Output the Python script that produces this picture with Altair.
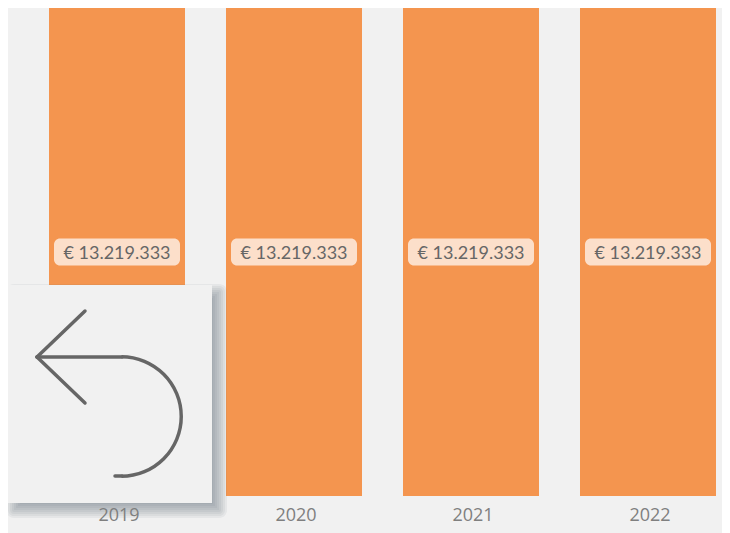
import altair as alt
import pandas as pd

years = ["2019", "2020", "2021", "2022"]
values = [13219333, 13219333, 13219333, 13219333]
labels = ["€ 13.219.333"] * 4

df = pd.DataFrame({"year": years, "value": values, "label": labels})
df["mid"] = df["value"] / 2

BG = "#F1F1F1"
ORANGE = "#F4954F"
INK = "#666666"

x = alt.X(
    "year:N",
    title=None,
    scale=alt.Scale(range=[41, 708], paddingInner=0.2316, paddingOuter=0),
    axis=alt.Axis(
        domain=False, ticks=False, grid=False, labelAngle=0, labelFontSize=18,
        labelFont="Open Sans", labelColor="#7F7F7F", labelPadding=10,
        labelOffset=2, zindex=1,
    ),
)
y_axis = alt.Axis(domain=False, ticks=False, grid=False, labels=False, title=None)
yscale = alt.Scale(domain=[0, 13219333], range=[488, 0], nice=False)

bars = alt.Chart(df).mark_bar(color=ORANGE, size=136).encode(
    x=x, y=alt.Y("value:Q", scale=yscale, axis=y_axis)
)
badges = alt.Chart(df).mark_rect(
    width=126, height=27, cornerRadius=6, color="#FFFFFF", opacity=0.7
).encode(x=x, y=alt.Y("mid:Q", scale=yscale, axis=y_axis))
texts = alt.Chart(df).mark_text(
    font="Lato", fontSize=18, color=INK, baseline="middle", align="center", dy=1.5
).encode(x=x, y=alt.Y("mid:Q", scale=yscale, axis=y_axis), text="label:N")


def box(x0, x1, y0, y1, **kw):
    return alt.Chart(df.head(1)).mark_rect(**kw).encode(
        x=alt.value(x0), x2=alt.value(x1), y=alt.value(y0), y2=alt.value(y1)
    )


def seg(x0, y0, x1, y1):
    return alt.Chart(df.head(1)).mark_rule(
        color=INK, strokeWidth=3.5, strokeCap="round"
    ).encode(x=alt.value(x0), x2=alt.value(x1), y=alt.value(y0), y2=alt.value(y1))


# button drawn in pixel space (chart origin is page 8,8)
L, R, T, B = 7 - 8, 212 - 8, 285 - 8, 503 - 8
shadow = []
for g in range(8, -8, -2):
    shadow.append(
        box(L + 7 - g, R + 7 + g, T + 7 - g, B + 7 + g,
            color="#5C6779", opacity=0.08, cornerRadius=max(g, 0))
    )
panel = box(L, R, T, B, color=BG)
arrow = [seg(29, 349, 114, 349), seg(29, 349, 77, 303), seg(29, 349, 77, 395), seg(107, 468, 114, 468)]
arc = alt.Chart(df.head(1)).mark_arc(
    radius=61.5, radius2=58, theta=0, theta2=3.14159, color=INK
).encode(x=alt.value(113.5), y=alt.value(408.5))

chart = alt.layer(bars, badges, texts, *shadow, panel, *arrow, arc).properties(
    width=714,
    height=488,
    padding={"left": 0, "top": 0, "right": 0, "bottom": 37},
    autosize=alt.AutoSizeParams(type="none"),
    background=BG,
).configure_view(stroke=None, clip=False)

chart.save("out.html", embed_options={"renderer": "svg", "actions": False})
